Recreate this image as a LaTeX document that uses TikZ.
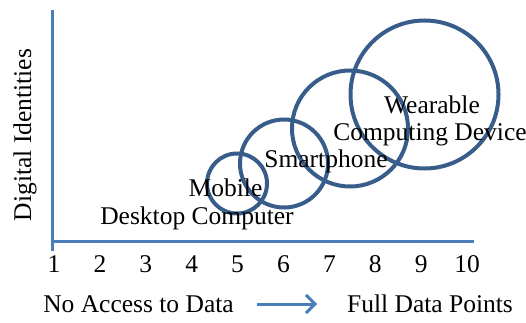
\documentclass[tikz,border=0pt]{standalone}
\usepackage{fontspec}
\setmainfont{Liberation Serif}
\usepackage{xcolor}
\usetikzlibrary{arrows.meta}
\definecolor{bubbleblue}{RGB}{56,93,138}
\definecolor{axisblue}{RGB}{74,126,187}

\tikzset{
  bubble/.style={circle, draw=bubbleblue, line width=4pt, inner sep=0pt},
  lbl/.style={anchor=base, inner sep=0pt},
  axisline/.style={draw=axisblue, line width=3pt},
}

\begin{document}
\begin{tikzpicture}[x=1pt, y=1pt, font=\fontsize{25.5}{30}\selectfont]
\useasboundingbox (0,0) rectangle (526,322);
%axes
\coordinate (ytop) at (52,312);
\coordinate (ybot) at (52,71);
\coordinate (orig) at (52,81);
\coordinate (xend) at (474,81);
\draw[axisline] (ytop) -- (ybot);
\draw[axisline] (orig) -- (xend);
\foreach \i in {1,...,10}
  \node[lbl] (t\i) at ({54+(\i-1)*45.9},50) {\i};
\node[lbl, rotate=90] (ylab) at (31,187) {Digital Identities};

%bubbles
\node[bubble, minimum size=60pt] (mobile) at (237,138.5) {};
\node[bubble, minimum size=88pt] (smart) at (284,158.5) {};
\node[bubble, minimum size=116pt] (third) at (350,193.5) {};
\node[bubble, minimum size=148pt] (wear) at (424.5,227.5) {};

\node[lbl] (wearlab) at (432,209) {Wearable};
\node[lbl] (complab) at (430,182) {Computing Device};
\node[lbl] (smartlab) at (326,155) {Smartphone};
\node[lbl] (moblab) at (225.5,126) {Mobile};
\node[lbl] (desklab) at (197,98) {Desktop Computer};

%bottom
\node[lbl] (noaccess) at (138.5,10) {No Access to Data};
\node[lbl] (full) at (430,10) {Full Data Points};
\coordinate (arrs) at (257,18);
\coordinate (arre) at (317,18);
\draw[draw=axisblue, line width=3pt, -{Straight Barb[length=9pt,width=18pt]}] (arrs) -- (arre);
\end{tikzpicture}
\end{document}
